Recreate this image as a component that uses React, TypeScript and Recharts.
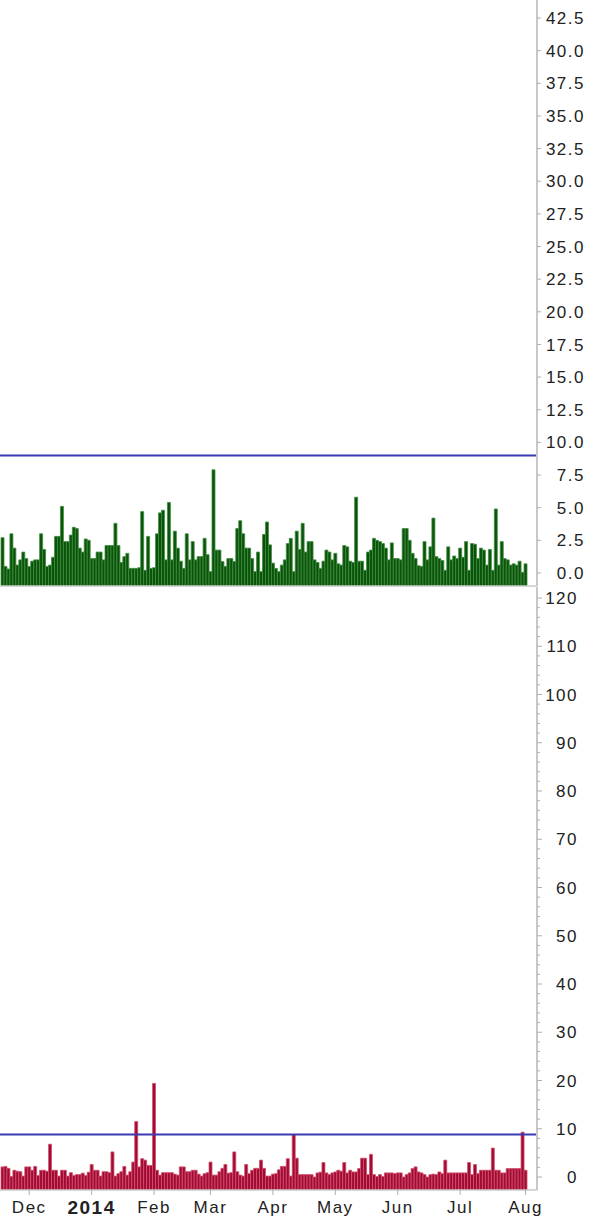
import React from "react";
import { BarChart, Bar, XAxis, YAxis, ReferenceLine } from "recharts";

// one bar per trading day, mid Nov 2013 .. 1 Aug 2014
const greenValues = [
  2.7, 0.5, 0.3, 3.0, 1.9, 0.6, 1.0, 1.6, 1.1, 0.5,
  0.9, 1.0, 1.0, 3.0, 1.8, 0.5, 0.6, 1.2, 2.8, 2.8,
  5.1, 2.4, 2.4, 2.9, 3.5, 3.4, 1.9, 1.6, 2.6, 2.5,
  1.1, 1.1, 1.6, 1.6, 1.0, 2.1, 2.1, 2.1, 3.8, 2.1,
  0.8, 1.25, 1.5, 0.35, 0.35, 0.35, 0.4, 4.7, 0.2, 2.8,
  0.35, 0.4, 3.0, 4.6, 4.8, 1.0, 5.4, 1.0, 3.2, 1.9,
  0.9, 0.35, 3.0, 1.0, 2.4, 1.0, 1.25, 1.25, 2.65, 1.4,
  0.1, 7.9, 1.75, 1.75, 0.87, 0.5, 1.1, 1.1, 0.87, 3.4,
  4.0, 3.0, 1.9, 1.9, 1.1, 0.1, 1.6, 0.1, 2.95, 3.9,
  2.15, 0.75, 0.35, 0.1, 0.6, 1.0, 2.25, 2.65, 0.1, 3.2,
  1.8, 3.8, 1.6, 2.4, 2.4, 1.0, 0.8, 0.35, 0.9, 1.75,
  1.6, 1.0, 1.5, 0.7, 0.6, 2.1, 2.0, 0.9, 0.8, 5.8,
  0.9, 0.9, 0.2, 1.6, 1.75, 2.65, 2.5, 2.4, 2.25, 1.9,
  1.0, 2.3, 1.1, 1.1, 1.0, 3.4, 3.4, 2.5, 1.5, 1.1,
  0.55, 0.5, 2.4, 1.0, 2.0, 4.2, 1.25, 1.1, 0.95, 0.2,
  2.0, 1.0, 1.3, 1.1, 1.9, 1.2, 2.4, 0.2, 2.25, 2.2,
  1.1, 1.9, 1.75, 0.6, 1.8, 0.2, 4.9, 0.6, 2.4, 1.1,
  1.0, 0.6, 0.7, 0.6, 0.9, 0.05, 0.7,
];

const redValues = [
  2.1, 2.2, 1.8, 0.1, 1.4, 1.2, 1.1, 0.2, 2.1, 2.1,
  1.4, 2.2, 0.3, 1.4, 1.4, 1.2, 6.8, 1.4, 1.4, 0.2,
  1.4, 1.4, 0.2, 0.9, 0.3, 0.5, 0.5, 0.8, 0.3, 1.0,
  2.6, 1.4, 1.4, 0.2, 1.1, 1.1, 0.9, 5.2, 0.2, 0.7,
  1.1, 2.2, 0.4, 1.1, 3.1, 11.5, 2.1, 3.8, 3.5, 2.4,
  2.4, 19.4, 1.4, 0.4, 0.9, 0.9, 0.9, 0.9, 0.6, 0.4,
  2.1, 2.1, 1.1, 1.1, 1.4, 1.4, 0.6, 0.2, 0.7, 0.9,
  3.1, 0.4, 0.4, 1.1, 1.8, 2.6, 0.8, 0.9, 5.2, 1.1,
  0.4, 0.2, 2.6, 0.7, 1.4, 1.8, 1.8, 3.5, 1.8, 0.2,
  0.2, 0.6, 0.7, 1.5, 2.2, 2.2, 3.8, 0.2, 8.8, 3.9,
  0.5, 0.5, 0.5, 0.5, 0.5, 0.0, 0.85, 1.0, 3.0, 0.85,
  0.5, 0.85, 1.05, 1.4, 1.2, 3.0, 0.85, 1.4, 1.05, 1.05,
  1.75, 3.9, 3.9, 0.5, 4.7, 0.5, 0.1, 0.5, 0.1, 0.85,
  0.85, 0.85, 0.7, 0.85, 0.85, 0.0, 0.5, 0.85, 1.75, 2.1,
  1.05, 0.85, 0.5, 0.0, 0.5, 0.6, 0.5, 1.05, 0.7, 3.5,
  0.85, 0.85, 0.85, 0.85, 0.85, 0.85, 0.85, 3.0, 0.5, 2.6,
  0.7, 1.4, 1.4, 1.4, 1.4, 6.0, 1.4, 1.4, 0.85, 0.85,
  1.75, 1.75, 1.75, 1.75, 1.75, 9.3, 1.4,
];

// index of the first trading day of each month, and its label
const monthTickIndex = [9, 30, 51, 70, 91, 112, 133, 154, 176];
const monthLabels = ["Dec", "2014", "Feb", "Mar", "Apr", "May", "Jun", "Jul", "Aug"];

const topTicks = [0, 2.5, 5, 7.5, 10, 12.5, 15, 17.5, 20, 22.5, 25, 27.5, 30, 32.5, 35, 37.5, 40, 42.5];
const bottomTicks = [
  0, 2, 4, 6, 8, 10, 12, 14, 16, 18, 20, 22, 24, 26, 28, 30, 32, 34, 36, 38, 40,
  42, 44, 46, 48, 50, 52, 54, 56, 58, 60, 62, 64, 66, 68, 70, 72, 74, 76, 78, 80,
  82, 84, 86, 88, 90, 92, 94, 96, 98, 100, 102, 104, 106, 108, 110, 112, 114, 116, 118, 120,
];

const topLevel = 9.0;
const bottomLevel = 8.8;

const TOP_MIN = -1.0;
const TOP_MAX = 43.88;
const BOTTOM_MIN = -2.69;
const BOTTOM_MAX = 122.28;

const FONT = '"Liberation Sans", Arial, sans-serif';
const GRID = "#c8c8c8";

const topData = greenValues.map((v, i) => ({ i, range: [TOP_MIN, v] }));
const bottomData = redValues.map((v, i) => ({ i, range: [BOTTOM_MIN, v] }));

function TopTick(props: any) {
  const { x, y, payload } = props;
  return (
    <g>
      <line x1={x} y1={y} x2={x + 4} y2={y} stroke="#b0b0b0" />
      <text x={x + 48} y={y} dy="0.36em" textAnchor="end" fill="#222" fontSize={17} letterSpacing={1.5} fontFamily={FONT}>
        {Number(payload.value).toFixed(1)}
      </text>
    </g>
  );
}

function BottomTick(props: any) {
  const { x, y, payload } = props;
  const major = payload.value % 10 === 0;
  return (
    <g>
      <line x1={x} y1={y} x2={x + (major ? 5 : 3)} y2={y} stroke="#b0b0b0" />
      {major && (
        <text x={x + 41} y={y} dy="0.36em" textAnchor="end" fill="#222" fontSize={17} letterSpacing={1.5} fontFamily={FONT}>
          {payload.value}
        </text>
      )}
    </g>
  );
}

function MonthTick(props: any) {
  const { x, y, payload } = props;
  const k = monthTickIndex.indexOf(payload.value);
  if (k < 0) return <g />;
  const bold = monthLabels[k] === "2014";
  return (
    <g>
      <line x1={x} y1={y} x2={x} y2={y + 5} stroke="#b0b0b0" />
      <text
        x={x}
        y={y + 17}
        dy="0.36em"
        textAnchor="middle"
        fill="#222"
        fontSize={bold ? 19 : 17}
        fontWeight={bold ? "bold" : "normal"}
        letterSpacing={1.5}
        fontFamily={FONT}
      >
        {monthLabels[k]}
      </text>
    </g>
  );
}

export default function App() {
  return (
    <div style={{ position: "absolute", left: 0, top: 0, width: 598, height: 1224, background: "#fff" }}>
      <BarChart width={598} height={587} data={topData} margin={{ top: 0, right: 0, left: 0, bottom: 0 }} barCategoryGap={0} barGap={0}>
        <XAxis
          dataKey="i"
          height={1}
          tick={false}
          tickLine={false}
          axisLine={{ stroke: GRID, strokeWidth: 1.5 }}
          padding={{ left: 1, right: 10 }}
        />
        <YAxis
          orientation="right"
          width={61}
          type="number"
          domain={[TOP_MIN, TOP_MAX]}
          allowDataOverflow
          ticks={topTicks}
          interval={0}
          tickSize={0}
          tickMargin={0}
          tickLine={false}
          axisLine={{ stroke: GRID, strokeWidth: 2 }}
          tick={(p: any) => <TopTick {...p} />}
        />
        <ReferenceLine y={topLevel} stroke="#3a3ab4" strokeWidth={2} />
        <Bar dataKey="range" fill="#0b520b" stroke="#3f8f3f" strokeWidth={0.8} isAnimationActive={false} />
      </BarChart>
      <BarChart width={598} height={637} data={bottomData} margin={{ top: 0, right: 0, left: 0, bottom: 0 }} barCategoryGap={0} barGap={0}>
        <XAxis
          dataKey="i"
          height={34}
          interval={0}
          tickSize={0}
          tickMargin={0}
          tickLine={false}
          axisLine={{ stroke: GRID, strokeWidth: 1.5 }}
          padding={{ left: 1, right: 10 }}
          tick={(p: any) => <MonthTick {...p} />}
        />
        <YAxis
          orientation="right"
          width={61}
          type="number"
          domain={[BOTTOM_MIN, BOTTOM_MAX]}
          allowDataOverflow
          ticks={bottomTicks}
          interval={0}
          tickSize={0}
          tickMargin={0}
          tickLine={false}
          axisLine={{ stroke: GRID, strokeWidth: 2 }}
          tick={(p: any) => <BottomTick {...p} />}
        />
        <ReferenceLine y={bottomLevel} stroke="#3a3ab4" strokeWidth={2} />
        <Bar dataKey="range" fill="#a00a34" stroke="#d4506c" strokeWidth={0.8} isAnimationActive={false} />
      </BarChart>
    </div>
  );
}
